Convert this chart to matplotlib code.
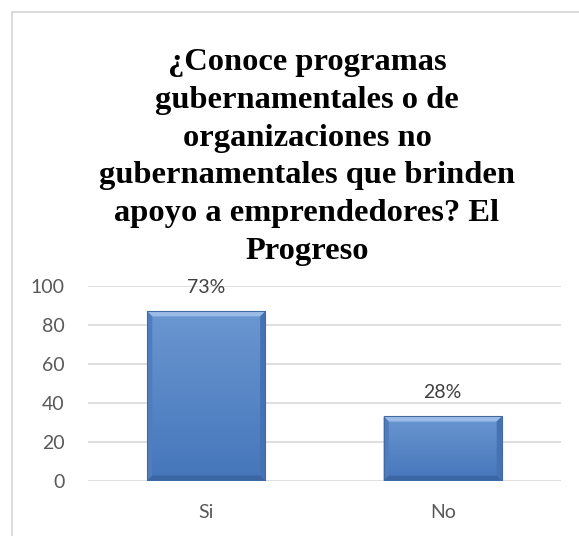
import numpy as np
import matplotlib.pyplot as plt
from matplotlib.patches import Polygon, Rectangle
from matplotlib.colors import LinearSegmentedColormap
from matplotlib.lines import Line2D

# Datos
categorias = ['Si', 'No']
valores = [87, 33]
etiquetas = ['73%', '28%']
marcas_y = [0, 20, 40, 60, 80, 100]

titulo = ('¿Conoce programas\ngubernamentales o de\norganizaciones no\n'
          'gubernamentales que brinden\napoyo a emprendedores? El\nProgreso')

W, H = 579, 536
fig = plt.figure(figsize=(W / 100, H / 100), dpi=100)
fig.patch.set_facecolor('white')

# marco del gráfico
gris = '#d9d9d9'
fig.add_artist(Line2D([11.7 / W, 11.7 / W], [0, 1 - 12 / H], transform=fig.transFigure,
                      color=gris, lw=1.3))
fig.add_artist(Line2D([11.7 / W, 1], [1 - 12 / H, 1 - 12 / H], transform=fig.transFigure,
                      color=gris, lw=1.3))

fig.text(307 / W, 1 - 48 / H, titulo, ha='center', va='top',
         fontfamily='Liberation Serif', fontweight='bold', fontsize=23.4,
         linespacing=1.4, color='black')

ax = fig.add_axes([88 / W, 1 - 480.7 / H, (561 - 88) / W, 194.7 / H])
x = np.arange(len(categorias))

barras = ax.bar(x, valores, width=0.5, color='none', zorder=3)

degradado = LinearSegmentedColormap.from_list('azul', ['#4576bb', '#6b97d1'])
grad = np.linspace(0, 1, 256).reshape(-1, 1)

for b in barras:
    x0, w, h = b.get_x(), b.get_width(), b.get_height()
    x1 = x0 + w
    ax.imshow(grad, extent=[x0, x1, 0, h], origin='lower', cmap=degradado,
              aspect='auto', zorder=3, interpolation='bicubic')
    bx, by = 0.022, 2.6
    # biseles
    ax.add_patch(Polygon([(x0, h), (x1, h), (x1 - bx, h - by), (x0 + bx, h - by)],
                         closed=True, facecolor='#9cbbe6', edgecolor='none', zorder=4))
    ax.add_patch(Polygon([(x0, 0), (x0, h), (x0 + bx, h - by), (x0 + bx, by)],
                         closed=True, facecolor='#4f7dbf', edgecolor='none', zorder=4))
    ax.add_patch(Polygon([(x1, 0), (x1, h), (x1 - bx, h - by), (x1 - bx, by)],
                         closed=True, facecolor='#4472b3', edgecolor='none', zorder=4))
    ax.add_patch(Polygon([(x0, 0), (x1, 0), (x1 - bx, by), (x0 + bx, by)],
                         closed=True, facecolor='#3b66a3', edgecolor='none', zorder=4))
    ax.add_patch(Rectangle((x0, 0), w, h, facecolor='none', edgecolor='#416aa3',
                           lw=0.8, zorder=5))

for xi, v, et in zip(x, valores, etiquetas):
    ax.annotate(et, xy=(xi, v), xytext=(0, 17), textcoords='offset points',
                ha='center', va='center', fontsize=14, color='#404040',
                fontfamily='Lato')

ax.set_xlim(-0.5, 1.5)
ax.set_ylim(0, 100)
ax.set_yticks(marcas_y)
ax.set_xticks(x)
ax.set_xticklabels(categorias)
ax.yaxis.grid(True, color=gris, lw=1.2, zorder=0)
ax.set_axisbelow(True)
for s in ax.spines.values():
    s.set_visible(False)
ax.tick_params(axis='both', length=0, labelsize=14, labelcolor='#595959')
ax.tick_params(axis='y', pad=17)
ax.tick_params(axis='x', pad=17)
for lab in ax.get_xticklabels() + ax.get_yticklabels():
    lab.set_fontfamily('Lato')

fig.savefig('out.png', dpi=100, facecolor='white')
